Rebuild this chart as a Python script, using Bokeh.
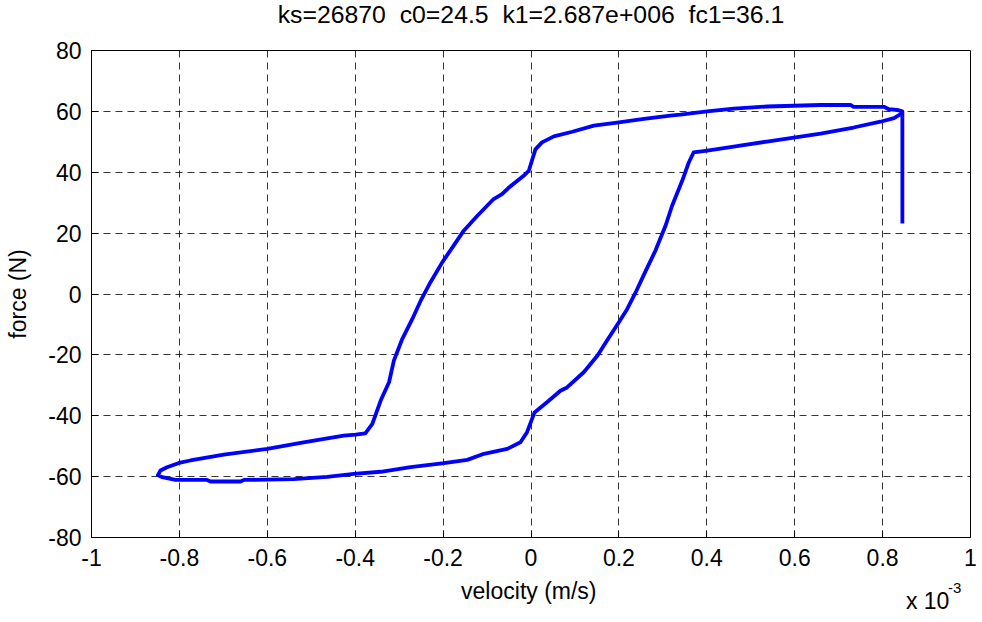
from bokeh.plotting import figure
from bokeh.layouts import column
from bokeh.models import FixedTicker, Range1d, ColumnDataSource
from bokeh.core.properties import value
from bokeh.embed import file_html
from bokeh.resources import INLINE

# ---- data (velocity in units of 1e-3 m/s, force in N) ----
velocity = [
    0.845, 0.845,
    0.833, 0.814, 0.803, 0.734, 0.727, 0.659, 0.537, 0.461, 0.401, 0.340, 0.317,
    0.257, 0.200, 0.143, 0.094, 0.052, 0.025, 0.010,
    -0.005, -0.016, -0.050, -0.066, -0.085, -0.122, -0.153, -0.176, -0.202, -0.229,
    -0.251, -0.270, -0.293, -0.312, -0.323, -0.342, -0.361, -0.377,
    -0.399, -0.426, -0.494, -0.524, -0.600, -0.699, -0.775, -0.801, -0.828, -0.843, -0.849,
    -0.839, -0.809, -0.737, -0.729, -0.661, -0.653, -0.540, -0.464, -0.403, -0.342,
    -0.274, -0.198, -0.145, -0.107, -0.054, -0.024, -0.009, 0.008,
    0.037, 0.067, 0.082, 0.120, 0.151, 0.173, 0.200, 0.219, 0.238, 0.261, 0.283,
    0.306, 0.321, 0.344, 0.359, 0.370,
    0.401, 0.461, 0.537, 0.598, 0.659, 0.734, 0.795, 0.826, 0.841, 0.845,
]
force = [
    23.2, 60.0,
    60.5, 60.7, 61.5, 61.5, 62.1, 62.1, 61.6, 60.9, 60.0, 58.9, 58.6,
    57.5, 56.4, 55.3, 53.3, 51.8, 49.8, 47.5,
    40.5, 38.9, 35.0, 32.8, 31.2, 25.7, 20.8, 15.9, 10.4, 3.8,
    -2.2, -8.2, -14.8, -21.9, -29.0, -35.0, -42.7, -45.8,
    -46.2, -46.5, -48.2, -48.9, -50.9, -52.8, -54.7, -55.5, -56.9, -58.0, -59.5,
    -60.2, -61.1, -61.1, -61.6, -61.6, -61.1, -60.8, -60.1, -59.1, -58.4,
    -56.9, -55.6, -54.5, -52.5, -50.9, -48.7, -45.4, -38.9,
    -35.5, -31.8, -30.7, -25.7, -20.3, -15.3, -9.3, -4.9, 0.5, 7.6, 14.2,
    22.4, 29.0, 37.2, 43.2, 46.5,
    47.1, 48.4, 50.1, 51.4, 52.7, 54.7, 56.6, 57.8, 59.1, 60.0,
]

x_ticks = [-1.0, -0.8, -0.6, -0.4, -0.2, 0.0, 0.2, 0.4, 0.6, 0.8, 1.0]
x_tick_labels = ["-1", "-0.8", "-0.6", "-0.4", "-0.2", "0", "0.2", "0.4", "0.6", "0.8", "1"]
y_ticks = [-80, -60, -40, -20, 0, 20, 40, 60, 80]
y_tick_labels = ["-80", "-60", "-40", "-20", "0", "20", "40", "60", "80"]

title_text = "ks=26870\u00a0 c0=24.5\u00a0 k1=2.687e+006\u00a0 fc1=36.1"
x_label = "velocity (m/s)"
y_label = "force (N)"
x_multiplier = "x 10"
x_exponent = "-3"

FONT = "Liberation Sans"
FS = "23px"

# ---------------- main plot ----------------
p = figure(width=982, height=542, x_range=Range1d(-1, 1), y_range=Range1d(-80, 80),
           output_backend="svg", toolbar_location=None,
           min_border_left=91, min_border_right=12, min_border_top=16, min_border_bottom=39,
           background_fill_color="white", border_fill_color="white")

src = ColumnDataSource(dict(v=velocity, f=force))
p.line("v", "f", source=src, line_color="#0000ff", line_width=3.8, line_join="round")

for ax in (p.xaxis[0], p.yaxis[0]):
    ax.axis_line_color = "black"
    ax.major_tick_in = 7
    ax.major_tick_out = 0
    ax.minor_tick_line_color = None
    ax.major_tick_line_color = "black"
    ax.major_label_text_font = FONT
    ax.major_label_text_font_size = FS
    ax.major_label_text_color = "black"
    ax.axis_label_text_font = FONT
    ax.axis_label_text_font_size = FS
    ax.axis_label_text_font_style = "normal"
    ax.axis_label_text_color = "black"

p.xaxis.ticker = FixedTicker(ticks=x_ticks)
p.xaxis.major_label_overrides = dict(zip(x_ticks, x_tick_labels))
p.xaxis.major_label_standoff = 11

p.yaxis.ticker = FixedTicker(ticks=y_ticks)
p.yaxis.major_label_overrides = dict(zip(y_ticks, y_tick_labels))
p.yaxis.major_label_standoff = 10
p.yaxis.axis_label = y_label
p.yaxis.axis_label_standoff = 14

p.xgrid.grid_line_color = "black"
p.ygrid.grid_line_color = "black"
p.xgrid.grid_line_alpha = 0.8
p.ygrid.grid_line_alpha = 0.8
p.xgrid.grid_line_dash = "7 5"
p.ygrid.grid_line_dash = "7 5"
p.outline_line_color = "black"
p.outline_line_alpha = 1.0


def strip(height):
    """Text strip sharing the plot's x axis units; y counts pixels down from its top."""
    s = figure(width=982, height=height, x_range=p.x_range, y_range=Range1d(height, 0),
               title=None, x_axis_type=None, y_axis_type=None,
               output_backend="svg", toolbar_location=None, min_border=0,
               min_border_left=0, min_border_right=0, min_border_top=0, min_border_bottom=0,
               background_fill_color="white", border_fill_color="white")
    s.outline_line_color = None
    return s


# ---------------- title strip ----------------
t = strip(34)
t.text(x=[0.0], y=[13.5], text=[title_text], text_align="center", text_baseline="alphabetic",
       text_font=value(FONT), text_font_size="24.8px", text_color="black")

# ---------------- strip under the plot: x label and "x 10^-3" multiplier ----------------
q = strip(46)
q.text(x=[-0.005], y=[14], text=[x_label], text_align="center", text_baseline="alphabetic",
       text_font=value(FONT), text_font_size=FS, text_color="black")
q.text(x=[0.853], y=[24], text=[x_multiplier], text_align="left", text_baseline="alphabetic",
       text_font=value(FONT), text_font_size=FS, text_color="black")
q.text(x=[0.949], y=[11], text=[x_exponent], text_align="left", text_baseline="alphabetic",
       text_font=value(FONT), text_font_size="15px", text_color="black")

layout = column(t, p, q, spacing=0)
open("out.html", "w").write(file_html(layout, INLINE))
